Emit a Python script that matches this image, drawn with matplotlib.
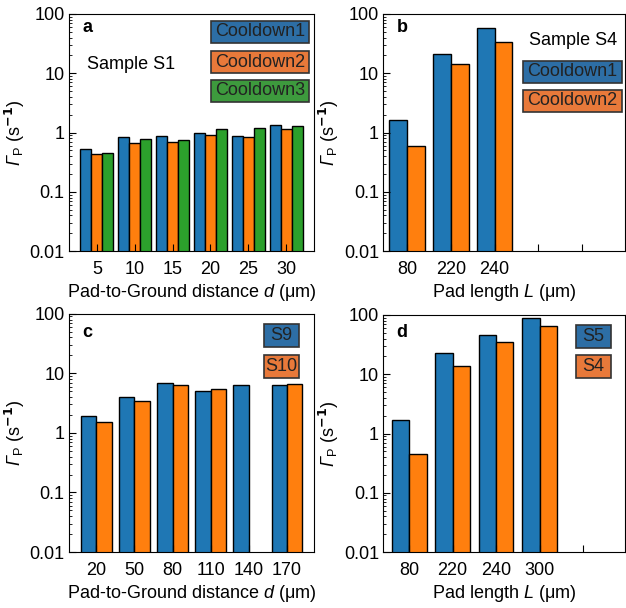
import matplotlib
matplotlib.use("Agg")
import matplotlib.pyplot as plt
from matplotlib.patches import Rectangle
import numpy as np

plt.rcParams['font.family'] = ['Liberation Sans', 'DejaVu Sans']
plt.rcParams['mathtext.fontset'] = 'custom'
plt.rcParams['mathtext.it'] = 'Liberation Sans:italic'
plt.rcParams['mathtext.rm'] = 'Liberation Sans'
# italic Greek capital via the sf slot (the it slot forces capitals upright)
plt.rcParams['mathtext.sf'] = 'Liberation Sans:italic'

# panel a - sample S1, three cooldowns
a_labels = ['5', '10', '15', '20', '25', '30']
a_cd1 = [0.52, 0.83, 0.87, 1.0, 0.87, 1.32]
a_cd2 = [0.43, 0.66, 0.70, 0.90, 0.84, 1.13]
a_cd3 = [0.455, 0.77, 0.74, 1.13, 1.19, 1.27]

# panel b - sample S4, two cooldowns
b_labels = ['80', '220', '240', '', '']
b_cd1 = [1.6, 21.3, 57]
b_cd2 = [0.59, 14.6, 34]

# panel c - S9 vs S10
c_labels = ['20', '50', '80', '110', '140', '170']
c_s9 = [1.94, 4.0, 6.9, 5.1, 6.35, 6.45]
c_s10 = [1.51, 3.42, 6.35, 5.5, np.nan, 6.6]

# panel d - S5 vs S4
d_labels = ['80', '220', '240', '300', '']
d_s5 = [1.66, 22.6, 46, 90]
d_s4 = [0.45, 13.8, 34.6, 66]

BLUE, ORANGE, GREEN = '#1f77b4', '#ff7f0e', '#2ca02c'
BOX_COLORS = {BLUE: '#2d6ea5', ORANGE: '#e8793a', GREEN: '#3d9a3d'}

YLABEL = r'$\mathsf{\Gamma}_\mathrm{P}$ (s$^{\mathbf{-1}}$)'


def style_axis(ax, labels, xlim, xlabel, letter, letter_y):
    ax.set_yscale('log')
    ax.set_ylim(0.01, 100)
    ax.set_yticks([0.01, 0.1, 1, 10, 100])
    ax.set_yticklabels(['0.01', '0.1', '1', '10', '100'])
    ax.set_xticks(range(len(labels)))
    ax.set_xticklabels(labels)
    ax.set_xlim(*xlim)
    ax.tick_params(which='major', direction='in', length=5, width=0.8,
                   labelsize=13, top=False, right=False)
    ax.tick_params(axis='y', which='minor', direction='in', length=2.5, width=0.6, right=False)
    ax.tick_params(axis='y', pad=3)
    ax.tick_params(axis='x', pad=7)
    ax.set_ylabel(YLABEL, fontsize=13, labelpad=2)
    ax.set_xlabel(xlabel, fontsize=13, labelpad=3)
    ax.text(0.055, letter_y, letter, transform=ax.transAxes, fontsize=13,
            fontweight='bold', va='center', ha='left')


def legend_boxes(ax, x0, width, bottoms, height, texts, colors):
    # fixed-size coloured boxes with the label centred, like the original
    for b, t, c in zip(bottoms, texts, colors):
        ax.add_patch(Rectangle((x0, b), width, height, transform=ax.transAxes,
                               facecolor=BOX_COLORS[c], edgecolor='#333333',
                               linewidth=1.2, zorder=5))
        ax.text(x0 + width / 2, b + height / 2, t, transform=ax.transAxes,
                ha='center', va='center', fontsize=13, color='#222222', zorder=6)


fig = plt.figure(figsize=(6.26, 6.08), dpi=100)
ax_a = fig.add_axes([0.110, 0.587, 0.392, 0.390])
ax_b = fig.add_axes([0.612, 0.587, 0.386, 0.390])
ax_c = fig.add_axes([0.110, 0.092, 0.392, 0.392])
ax_d = fig.add_axes([0.612, 0.092, 0.386, 0.390])

bar_kw = dict(edgecolor='black', linewidth=1.0)

# a
x = np.arange(len(a_labels))
w = 0.29
ax_a.bar(x - w, a_cd1, w, color=BLUE, **bar_kw)
ax_a.bar(x, a_cd2, w, color=ORANGE, **bar_kw)
ax_a.bar(x + w, a_cd3, w, color=GREEN, **bar_kw)
style_axis(ax_a, a_labels, (-0.74, 5.74), r'Pad-to-Ground distance $d$ ($\mathrm{\mu}$m)', 'a', 0.941)
ax_a.text(0.073, 0.789, 'Sample S1', transform=ax_a.transAxes, fontsize=13, va='center')
legend_boxes(ax_a, 0.579, 0.399, [0.878, 0.751, 0.629], 0.093,
             ['Cooldown1', 'Cooldown2', 'Cooldown3'], [BLUE, ORANGE, GREEN])

# b
x = np.arange(len(b_cd1))
w = 0.41
ax_b.bar(x - w / 2, b_cd1, w, color=BLUE, **bar_kw)
ax_b.bar(x + w / 2, b_cd2, w, color=ORANGE, **bar_kw)
style_axis(ax_b, b_labels, (-0.55, 4.98), r'Pad length $L$ ($\mathrm{\mu}$m)', 'b', 0.941)
ax_b.text(0.967, 0.89, 'Sample S4', transform=ax_b.transAxes, fontsize=13, va='center', ha='right')
legend_boxes(ax_b, 0.579, 0.41, [0.709, 0.587], 0.093,
             ['Cooldown1', 'Cooldown2'], [BLUE, ORANGE])

# c
x = np.arange(len(c_labels))
w = 0.40
ax_c.bar(x - w / 2, c_s9, w, color=BLUE, **bar_kw)
ax_c.bar(x + w / 2, c_s10, w, color=ORANGE, **bar_kw)
style_axis(ax_c, c_labels, (-0.72, 5.72), r'Pad-to-Ground distance $d$ ($\mathrm{\mu}$m)', 'c', 0.92)
legend_boxes(ax_c, 0.795, 0.143, [0.859, 0.730], 0.0965, ['S9', 'S10'], [BLUE, ORANGE])

# d
x = np.arange(len(d_s5))
w = 0.40
ax_d.bar(x - w / 2, d_s5, w, color=BLUE, **bar_kw)
ax_d.bar(x + w / 2, d_s4, w, color=ORANGE, **bar_kw)
style_axis(ax_d, d_labels, (-0.6, 4.96), r'Pad length $L$ ($\mathrm{\mu}$m)', 'd', 0.928)
legend_boxes(ax_d, 0.797, 0.145, [0.862, 0.734], 0.097, ['S5', 'S4'], [BLUE, ORANGE])

fig.savefig('out.png', dpi=100)
plt.close(fig)
